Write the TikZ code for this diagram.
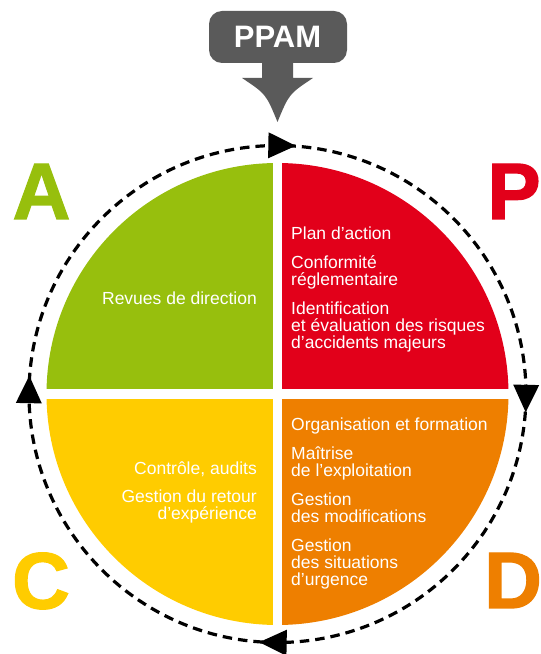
\documentclass[tikz,border=0pt]{standalone}
\usepackage{fontspec}
\setmainfont{Liberation Sans}
\newfontfamily\heavyfont{Liberation Sans Bold}[FakeBold=1.6]
\newfontfamily\boldsans{Liberation Sans Bold}
\definecolor{cgreen}{HTML}{97BF0D}
\definecolor{cred}{HTML}{E2001A}
\definecolor{cyellow}{HTML}{FFCC00}
\definecolor{corange}{HTML}{EE7F00}
\definecolor{cgray}{HTML}{5A5A5A}
\begin{document}
\begin{tikzpicture}[x=1pt,y=1pt,
  itemL/.style={anchor=base west,inner sep=0pt,text=white,font=\fontsize{17.5}{17.5}\selectfont},
  itemR/.style={anchor=base east,inner sep=0pt,text=white,font=\fontsize{17.5}{17.5}\selectfont},
  bigletter/.style={anchor=base,inner sep=0pt,font=\heavyfont\fontsize{80}{80}\selectfont},
  cyclearrow/.style={fill=black}]
\useasboundingbox (0,0) rectangle (541,654);
\coordinate (C) at (277.5,260);
% quadrants
\fill[cgreen] (C) -- ++(180:231) arc[start angle=180,end angle=90,radius=231] -- cycle;
\fill[cred] (C) -- ++(90:231) arc[start angle=90,end angle=0,radius=231] -- cycle;
\fill[corange] (C) -- ++(0:231) arc[start angle=0,end angle=-90,radius=231] -- cycle;
\fill[cyellow] (C) -- ++(-90:231) arc[start angle=-90,end angle=-180,radius=231] -- cycle;
\draw[white,line width=9.5pt] ([xshift=-240pt]C) -- ([xshift=240pt]C);
\draw[white,line width=9.5pt] ([yshift=-240pt]C) -- ([yshift=240pt]C);
% dashed cycle
\draw[line width=3.2pt,dash pattern=on 9.5pt off 6pt] (C) circle[radius=248.5];
\foreach \a in {89,-1,179,269}{
  \fill[cyclearrow,shift={(C)},rotate=\a] (248.5,-14) -- (261.5,13.5) -- (235.5,13.5) -- cycle;
}
% PPAM
\fill[cgray,rounded corners=13pt] (209,591) rectangle (347,643);
\fill[cgray] (262,595) -- (262,576) -- (242,576)
  .. controls (266,560) .. (277.5,532)
  .. controls (289,560) .. (313,576) -- (293,576) -- (293,595) -- cycle;
\node[inner sep=0pt,text=white,font=\boldsans\fontsize{31}{31}\selectfont] (ppam) at (277.5,617) {PPAM};
% letters
\node[bigletter,text=cgreen] (A) at (41.5,435) {A};
\node[bigletter,text=cred] (P) at (514,435) {P};
\node[bigletter,text=cyellow] (Cl) at (41,45.5) {C};
\node[bigletter,text=corange] (D) at (513,46) {D};
% red texts
\node[itemL] (r1) at (291,414) {Plan d’action};
\node[itemL] (r2) at (291,385) {Conformité};
\node[itemL] (r3) at (291,368) {réglementaire};
\node[itemL] (r4) at (291,339) {Identification};
\node[itemL] (r5) at (291,322) {et évaluation des risques};
\node[itemL] (r6) at (291,305) {d’accidents majeurs};
% orange texts
\node[itemL] (o1) at (291,223) {Organisation et formation};
\node[itemL] (o2) at (291,194) {Maîtrise};
\node[itemL] (o3) at (291,177) {de l’exploitation};
\node[itemL] (o4) at (291,148) {Gestion};
\node[itemL] (o5) at (291,131) {des modifications};
\node[itemL] (o6) at (291,102) {Gestion};
\node[itemL] (o7) at (291,85) {des situations};
\node[itemL] (o8) at (291,68) {d’urgence};
% green text
\node[itemR] (g1) at (257,349) {Revues de direction};
% yellow texts
\node[itemR] (y1) at (257,179) {Contrôle, audits};
\node[itemR] (y2) at (257,151) {Gestion du retour};
\node[itemR] (y3) at (257,134) {d’expérience};
\end{tikzpicture}
\end{document}
